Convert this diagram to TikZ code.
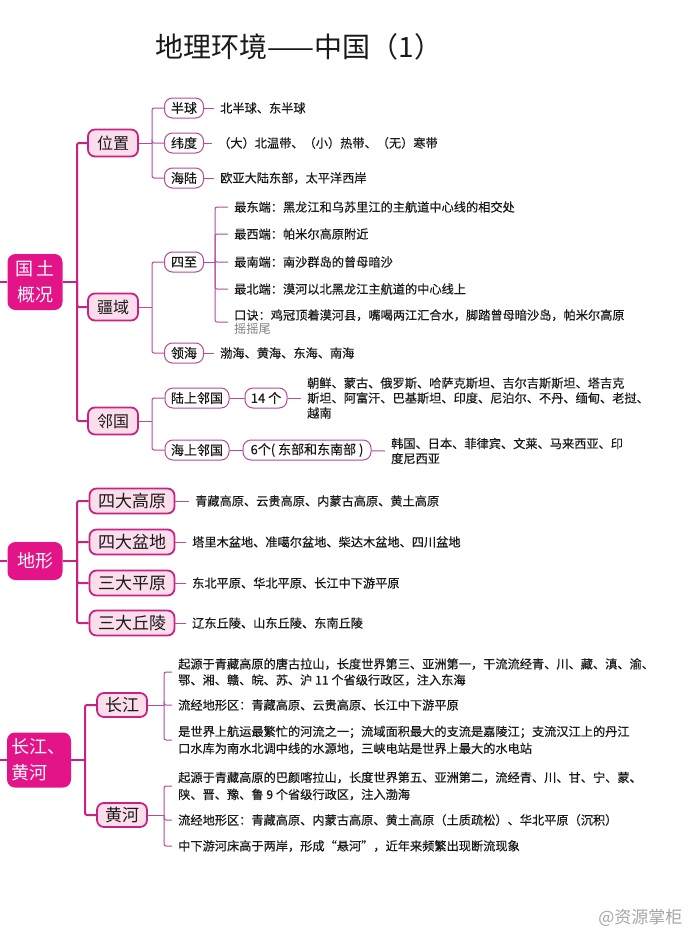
\documentclass[tikz,border=0pt]{standalone}
\usepackage{fontspec}
\setmainfont{Noto Sans CJK SC}
\newfontfamily\medfont[FakeBold=0.35]{Noto Sans CJK SC}
\usepackage{tikz}
\definecolor{pk}{RGB}{226, 20, 135}
\definecolor{pkdark}{RGB}{200, 35, 130}
\definecolor{pklight}{RGB}{251, 221, 236}
\definecolor{lila}{RGB}{180, 75, 160}
\definecolor{ink}{RGB}{25, 25, 25}

\begin{document}
\begin{tikzpicture}[x=1pt,y=-1pt,
  rootbox/.style={shape=rectangle,rounded corners=8pt,fill=pk,text=white,font=\fontsize{18}{26}\selectfont,inner sep=0pt},
  midbox/.style={shape=rectangle,rounded corners=7pt,draw=pkdark,line width=1.8pt,fill=pklight,text=ink,inner sep=0pt},
  leafbox/.style={shape=rectangle,rounded corners=8pt,draw=lila,line width=1pt,fill=white,text=ink,font=\medfont\fontsize{13}{15}\selectfont,minimum height=20pt,inner sep=0pt},
  txtbox/.style={anchor=west,align=left,text=ink,font=\medfont\fontsize{12.2}{15}\selectfont,inner xsep=6pt,inner ysep=0pt},
  trunkline/.style={draw=pkdark,line width=2pt,rounded corners=2pt},
  twigline/.style={draw=lila,line width=1pt,rounded corners=2pt}]
\fill[white] (0,0) rectangle (690,940);
\useasboundingbox (0,0) rectangle (690,940);

\node[text=ink,font=\fontsize{28}{32}\selectfont] (title) at (299,47) {地理环境——中国（1）};

\node[rootbox,minimum width=55pt,minimum height=56pt,align=center] (gt) at (35,282) {国\hspace{4pt}土\\概况};
\coordinate (gt0) at (0,282);
\coordinate (t1) at (77,282);
\node[midbox,minimum width=50pt,minimum height=27pt,font=\fontsize{16}{18}\selectfont] (wz) at (113,143) {位置};
\node[midbox,minimum width=50pt,minimum height=27pt,font=\fontsize{16}{18}\selectfont] (jy) at (113,307) {疆域};
\node[midbox,minimum width=50pt,minimum height=27pt,font=\fontsize{16}{18}\selectfont] (lg) at (113,421) {邻国};

\coordinate (t2) at (152,143);
\node[leafbox,minimum width=39pt] (bq) at (184,108) {半球};
\node[leafbox,minimum width=39pt] (wd) at (184,143) {纬度};
\node[leafbox,minimum width=39pt] (hl) at (184,178) {海陆};
\node[txtbox] (bqt) at (214,108) {北半球、东半球};
\node[txtbox] (wdt) at (212,143) {（大）北温带、（小）热带、（无）寒带};
\node[txtbox] (hlt) at (214,178) {欧亚大陆东部，太平洋西岸};

\coordinate (t3) at (152,307);
\node[leafbox,minimum width=39pt] (sz) at (184,262) {四至};
\node[leafbox,minimum width=39pt] (lh) at (184,353) {领海};
\coordinate (t4) at (215,262);
\node[txtbox] (e1) at (228,207) {最东端：黑龙江和乌苏里江的主航道中心线的相交处};
\node[txtbox] (e2) at (228,234) {最西端：帕米尔高原附近};
\node[txtbox] (e3) at (228,262) {最南端：南沙群岛的曾母暗沙};
\node[txtbox] (e4) at (228,289) {最北端：漠河以北黑龙江主航道的中心线上};
\node[txtbox,font=\medfont\fontsize{12.2}{14}\selectfont] (e5) at (228,322) {口诀：鸡冠顶着漠河县，嘴喝两江汇合水，脚踏曾母暗沙岛，帕米尔高原\\{\normalfont\fontsize{12.2}{14}\selectfont\textcolor{gray}{摇摇尾}}};
\node[txtbox] (lht) at (214,353) {渤海、黄海、东海、南海};

\coordinate (t5) at (152,421);
\node[leafbox,minimum width=64pt] (lsl) at (197,398) {陆上邻国};
\node[leafbox,minimum width=42pt] (n14) at (266,398) {14 个};
\node[txtbox] (lslt) at (301,398) {朝鲜、蒙古、俄罗斯、哈萨克斯坦、吉尔吉斯斯坦、塔吉克\\斯坦、阿富汗、巴基斯坦、印度、尼泊尔、不丹、缅甸、老挝、\\越南};
\node[leafbox,minimum width=64pt] (hsl) at (197,450) {海上邻国};
\node[leafbox,minimum width=128pt] (n6) at (307,450) {6个(~东部和东南部~)};
\node[txtbox] (hslt) at (385,451) {韩国、日本、菲律宾、文莱、马来西亚、印\\度尼西亚};

\draw[trunkline] (gt0) -- (gt);
\draw[trunkline] (gt) -- (t1);
\draw[trunkline] (t1) |- (wz);
\draw[trunkline] (t1) |- (jy);
\draw[trunkline] (t1) |- (lg);
\draw[twigline] (wz) -- (t2);
\draw[twigline] (t2) |- (bq);
\draw[twigline] (t2) |- (wd);
\draw[twigline] (t2) |- (hl);
\draw[twigline] (bq) -- (bqt.west);
\draw[twigline] (wd) -- (wdt.west);
\draw[twigline] (hl) -- (hlt.west);
\draw[twigline] (jy) -- (t3);
\draw[twigline] (t3) |- (sz);
\draw[twigline] (t3) |- (lh);
\draw[twigline] (sz) -- (t4);
\draw[twigline] (t4) |- (e1.west);
\draw[twigline] (t4) |- (e2.west);
\draw[twigline] (t4) |- (e3.west);
\draw[twigline] (t4) |- (e4.west);
\draw[twigline] (t4) |- (e5.west);
\draw[twigline] (lh) -- (lht.west);
\draw[twigline] (lg) -- (t5);
\draw[twigline] (t5) |- (lsl);
\draw[twigline] (t5) |- (hsl);
\draw[twigline] (lsl) -- (n14);
\draw[twigline] (n14) -- (lslt.west);
\draw[twigline] (hsl) -- (n6);
\draw[twigline] (n6) -- (hslt.west);

\node[rootbox,minimum width=55pt,minimum height=38pt] (dx) at (35,561) {地形};
\coordinate (dx0) at (0,561);
\coordinate (t6) at (77,561);
\node[midbox,minimum width=85pt,minimum height=25pt,font=\fontsize{17}{19}\selectfont] (gy) at (132,501) {四大高原};
\node[midbox,minimum width=85pt,minimum height=25pt,font=\fontsize{17}{19}\selectfont] (pd) at (132,542) {四大盆地};
\node[midbox,minimum width=85pt,minimum height=25pt,font=\fontsize{17}{19}\selectfont] (py) at (132,583) {三大平原};
\node[midbox,minimum width=85pt,minimum height=25pt,font=\fontsize{17}{19}\selectfont] (ql) at (132,623) {三大丘陵};
\node[txtbox] (gyt) at (189,501) {青藏高原、云贵高原、内蒙古高原、黄土高原};
\node[txtbox] (pdt) at (186,542) {塔里木盆地、准噶尔盆地、柴达木盆地、四川盆地};
\node[txtbox] (pyt) at (186,583) {东北平原、华北平原、长江中下游平原};
\node[txtbox] (qlt) at (186,623) {辽东丘陵、山东丘陵、东南丘陵};

\draw[trunkline] (dx0) -- (dx);
\draw[trunkline] (dx) -- (t6);
\draw[trunkline] (t6) |- (gy);
\draw[trunkline] (t6) |- (pd);
\draw[trunkline] (t6) |- (py);
\draw[trunkline] (t6) |- (ql);
\draw[twigline] (gy) -- (gyt.west);
\draw[twigline] (pd) -- (pdt.west);
\draw[twigline] (py) -- (pyt.west);
\draw[twigline] (ql) -- (qlt.west);

\node[rootbox,minimum width=64pt,minimum height=55pt,align=left] (cjhh) at (39,760) {长江、\\黄河};
\coordinate (cjhh0) at (0,760);
\coordinate (t7) at (85,760);
\node[midbox,minimum width=50pt,minimum height=24pt,font=\fontsize{17}{19}\selectfont] (cj) at (122,705) {长江};
\node[midbox,minimum width=50pt,minimum height=24pt,font=\fontsize{17}{19}\selectfont] (hh) at (122,815) {黄河};
\coordinate (t8) at (164,705);
\node[txtbox,font=\medfont\fontsize{12.2}{16}\selectfont] (c1) at (172,672) {起源于青藏高原的唐古拉山，长度世界第三、亚洲第一，干流流经青、川、藏、滇、渝、\\鄂、湘、赣、皖、苏、沪 11 个省级行政区，注入东海};
\node[txtbox] (c2) at (172,705) {流经地形区：青藏高原、云贵高原、长江中下游平原};
\node[txtbox,font=\medfont\fontsize{12.2}{17}\selectfont] (c3) at (172,740) {是世界上航运最繁忙的河流之一；流域面积最大的支流是嘉陵江；支流汉江上的丹江\\口水库为南水北调中线的水源地，三峡电站是世界上最大的水电站};
\coordinate (t9) at (164,815);
\node[txtbox,font=\medfont\fontsize{12.2}{17}\selectfont] (h1) at (172,786) {起源于青藏高原的巴颜喀拉山，长度世界第五、亚洲第二，流经青、川、甘、宁、蒙、\\陕、晋、豫、鲁 9 个省级行政区，注入渤海};
\node[txtbox] (h2) at (172,820) {流经地形区：青藏高原、内蒙古高原、黄土高原（土质疏松）、华北平原（沉积）};
\node[txtbox] (h3) at (172,846) {中下游河床高于两岸，形成“悬河”，近年来频繁出现断流现象};

\draw[trunkline] (cjhh0) -- (cjhh);
\draw[trunkline] (cjhh) -- (t7);
\draw[trunkline] (t7) |- (cj);
\draw[trunkline] (t7) |- (hh);
\draw[twigline] (cj) -- (t8);
\draw[twigline] (t8) |- (c1.west);
\draw[twigline] (t8) |- (c2.west);
\draw[twigline] (t8) |- (c3.west);
\draw[twigline] (hh) -- (t9);
\draw[twigline] (t9) |- (h1.west);
\draw[twigline] (t9) |- (h2.west);
\draw[twigline] (t9) |- (h3.west);

\node[text=black!35,font=\fontsize{17}{20}\selectfont,anchor=east] (wm) at (686,918) {@资源掌柜};
\end{tikzpicture}
\end{document}
